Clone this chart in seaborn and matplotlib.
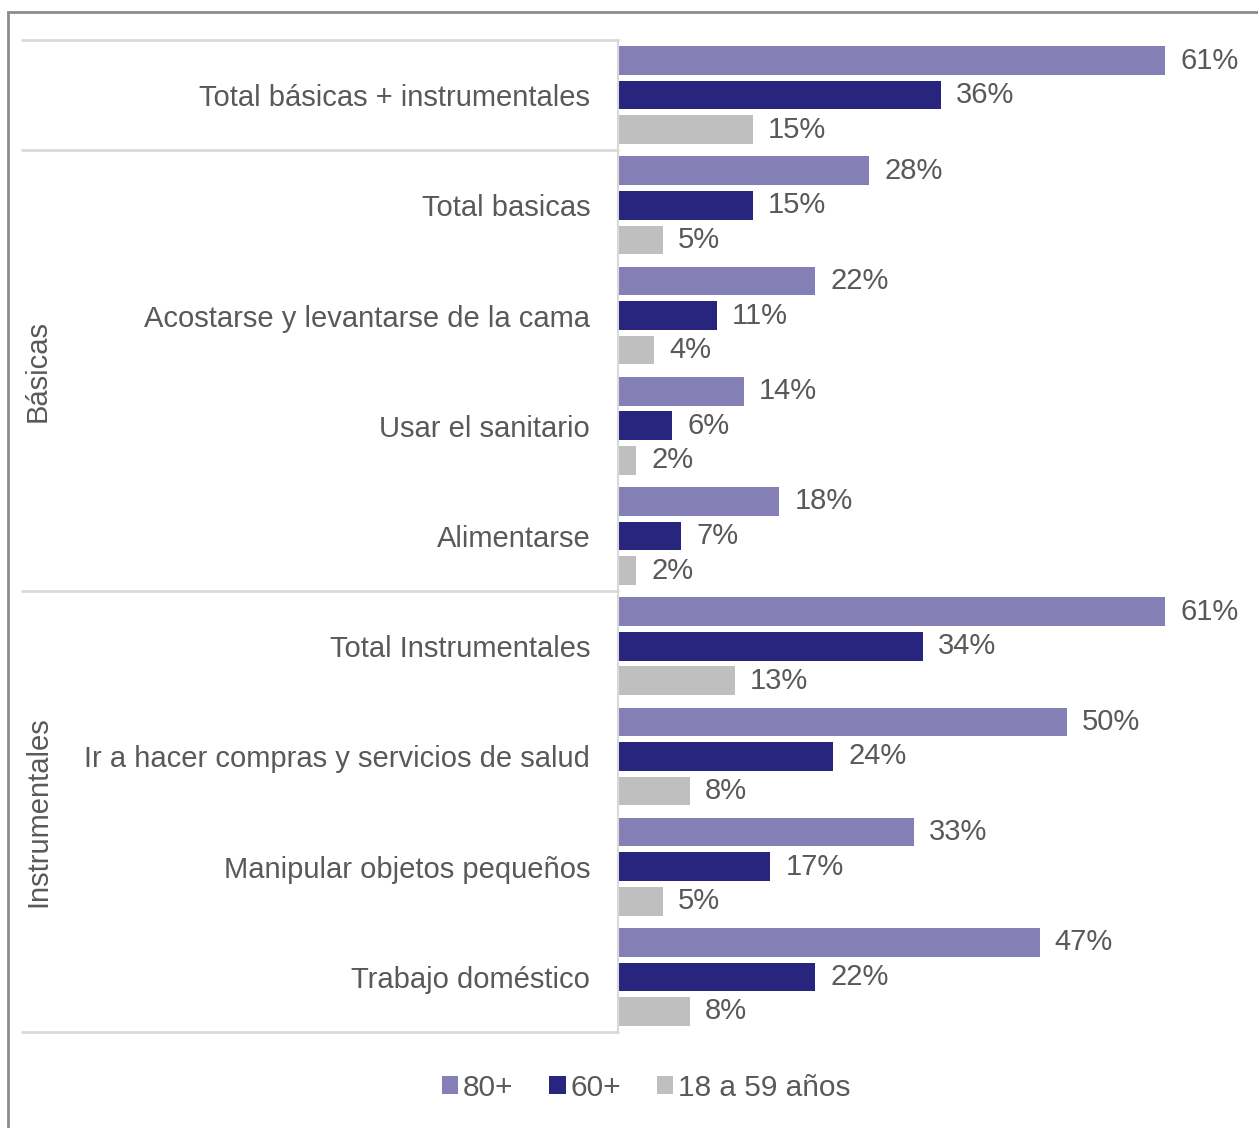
import matplotlib
matplotlib.use("Agg")
import matplotlib.pyplot as plt
import matplotlib.transforms as mtransforms
from matplotlib.patches import Rectangle, Patch
import seaborn as sns
import pandas as pd

categories = [
    "Total básicas + instrumentales",
    "Total basicas",
    "Acostarse y levantarse de la cama",
    "Usar el sanitario",
    "Alimentarse",
    "Total Instrumentales",
    "Ir a hacer compras y servicios de salud",
    "Manipular objetos pequeños",
    "Trabajo doméstico",
]
series_names = ["80+", "60+", "18 a 59 años"]
v80 = [61, 28, 22, 14, 18, 61, 50, 33, 47]
v60 = [36, 15, 11, 6, 7, 34, 24, 17, 22]
v18 = [15, 5, 4, 2, 2, 13, 8, 5, 8]
group_names = ["Básicas", "Instrumentales"]
colors = ["#8480B6", "#28257E", "#BFBFBF"]

rows = []
for name, vals in zip(series_names, [v80, v60, v18]):
    for c, v in zip(categories, vals):
        rows.append({"cat": c, "serie": name, "val": v})
df = pd.DataFrame(rows)

sns.set_theme(style="white")
plt.rcParams["font.family"] = ["Liberation Sans", "DejaVu Sans"]
TXT = "#595959"
LINE = "#D9D9D9"

W, H, DPI = 1258, 1128, 100
fig = plt.figure(figsize=(W / DPI, H / DPI), dpi=DPI)
ax_left, ax_right = 618, 1250
ax_top, ax_bot = 40, 1032
ax = fig.add_axes([ax_left / W, 1 - ax_bot / H, (ax_right - ax_left) / W, (ax_bot - ax_top) / H])

sns.barplot(data=df, y="cat", x="val", hue="serie", order=categories,
            hue_order=series_names, palette=colors, orient="h",
            width=0.94, gap=0.17, ax=ax, legend=False, saturation=1,
            edgecolor="none", err_kws={"linewidth": 0})

px_per_pct = 8.97
ax.set_xlim(0, (ax_right - ax_left) / px_per_pct)
ax.set_ylim(len(categories) - 0.5, -0.5)
ax.set_xlabel("")
ax.set_ylabel("")
ax.set_xticks([])
for s in ["top", "right", "bottom"]:
    ax.spines[s].set_visible(False)
ax.spines["left"].set_color(LINE)
ax.spines["left"].set_linewidth(1.5)
ax.tick_params(axis="y", length=0, pad=20, labelsize=21, labelcolor=TXT)

for cont in ax.containers:
    ax.bar_label(cont, labels=[f"{int(round(b.get_width()))}%" for b in cont],
                 padding=11, fontsize=21, color=TXT)

# separators on the left
trans = mtransforms.blended_transform_factory(ax.transAxes, ax.transData)
x0 = (22 - ax_left) / (ax_right - ax_left)
for yb in [-0.5, 0.5, 4.5, 8.5]:
    ax.plot([x0, 0], [yb, yb], color=LINE, lw=2, transform=trans, clip_on=False)

xg = (38 - ax_left) / (ax_right - ax_left)
ax.text(xg, 2.5, group_names[0], rotation=90, ha="center", va="center",
        fontsize=21, color=TXT, transform=trans)
ax.text(xg, 6.5, group_names[1], rotation=90, ha="center", va="center",
        fontsize=21, color=TXT, transform=trans)

handles = [Patch(facecolor=c, edgecolor="none") for c in colors]
fig.legend(handles, series_names, loc="center", bbox_to_anchor=(646 / W, 1 - 1088 / H),
           ncol=3, frameon=False, fontsize=21.5, labelcolor=TXT,
           handlelength=0.55, handleheight=0.55, handletextpad=0.15, columnspacing=1.2)

# outer border
fig.patches.append(Rectangle((8 / W, -0.05), 1.2, 1 - 12 / H + 0.05, transform=fig.transFigure,
                             fill=False, edgecolor="#8C8C8C", lw=2, zorder=0))

fig.savefig("out.png", dpi=DPI)
